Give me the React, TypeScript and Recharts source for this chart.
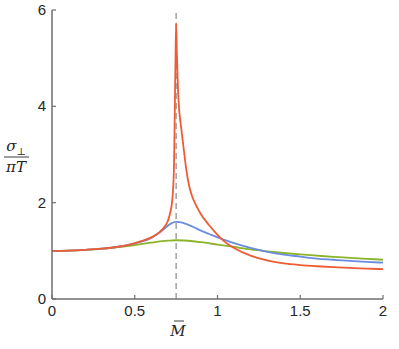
import { LineChart, Line, XAxis, YAxis, ReferenceLine } from 'recharts'

// values (x = M̄, y = σ⊥ / πT)
const orangeX = [0, 0.1, 0.2, 0.3, 0.4, 0.45, 0.5, 0.55, 0.6, 0.65, 0.68, 0.7, 0.715, 0.725, 0.732, 0.737, 0.74, 0.743, 0.746, 0.75, 0.754, 0.758, 0.762, 0.766, 0.77, 0.78, 0.79, 0.8, 0.81, 0.82, 0.83, 0.845, 0.86, 0.88, 0.9, 0.95, 1, 1.05, 1.1, 1.2, 1.3, 1.4, 1.5, 1.6, 1.7, 1.8, 1.9, 2]
const orangeY = [1.0, 1.005, 1.02, 1.045, 1.085, 1.115, 1.16, 1.21, 1.28, 1.39, 1.5, 1.62, 1.8, 2.0, 2.3, 2.75, 3.4, 4.2, 4.9, 5.72, 5.15, 4.7, 4.3, 4.05, 3.86, 3.57, 3.28, 3.0, 2.72, 2.5, 2.33, 2.15, 2.02, 1.88, 1.76, 1.53, 1.33, 1.17, 1.06, 0.9, 0.8, 0.74, 0.705, 0.68, 0.66, 0.645, 0.63, 0.62]

const blueX = [0, 0.1, 0.2, 0.3, 0.4, 0.5, 0.55, 0.6, 0.65, 0.7, 0.72, 0.75, 0.78, 0.8, 0.85, 0.9, 0.95, 1, 1.1, 1.2, 1.3, 1.4, 1.5, 1.6, 1.7, 1.8, 1.9, 2]
const blueY = [1.0, 1.005, 1.02, 1.045, 1.085, 1.155, 1.2, 1.27, 1.38, 1.52, 1.57, 1.6, 1.59, 1.57, 1.5, 1.42, 1.35, 1.28, 1.16, 1.06, 0.98, 0.92, 0.88, 0.84, 0.815, 0.79, 0.77, 0.755]

const greenX = [0, 0.1, 0.2, 0.3, 0.4, 0.5, 0.6, 0.7, 0.75, 0.8, 0.9, 1, 1.1, 1.2, 1.3, 1.4, 1.5, 1.6, 1.7, 1.8, 1.9, 2]
const greenY = [1.0, 1.005, 1.02, 1.04, 1.075, 1.12, 1.17, 1.21, 1.22, 1.215, 1.18, 1.13, 1.08, 1.03, 0.99, 0.955, 0.925, 0.9, 0.875, 0.855, 0.835, 0.815]

const xTicks = [0, 0.5, 1, 1.5, 2]
const yTicks = [0, 2, 4, 6]
const peakX = 0.75

const toPoints = (xs: number[], ys: number[]) => xs.map((x, i) => ({ x, y: ys[i] }))

const axisColor = '#6e6e6e'
const textColor = '#262626'
const font = '"Liberation Sans", Arial, sans-serif'

function XTick({ x, y, payload }: any) {
  return (
    <g>
      <line x1={x} y1={y} x2={x} y2={y - 4} stroke={axisColor} strokeWidth={1.2} />
      <text x={x} y={y + 17} textAnchor="middle" fontSize={15} fill={textColor} fontFamily={font}>
        {payload.value}
      </text>
    </g>
  )
}

function YTick({ x, y, payload }: any) {
  return (
    <g>
      <line x1={x} y1={y} x2={x + 4} y2={y} stroke={axisColor} strokeWidth={1.2} />
      <text x={x - 6} y={y + 5} textAnchor="end" fontSize={15} fill={textColor} fontFamily={font}>
        {payload.value}
      </text>
    </g>
  )
}

export default function App() {
  return (
    <div style={{ position: 'absolute', left: 0, top: 0, background: '#fff' }}>
      <LineChart width={399} height={349} margin={{ top: 10, right: 16, left: 0, bottom: 0 }}>
        <XAxis
          dataKey="x"
          type="number"
          domain={[0, 2]}
          ticks={xTicks}
          tickSize={0}
          tickMargin={0}
          tickLine={false}
          tick={<XTick />}
          height={50}
          stroke={axisColor}
          strokeWidth={1.5}
          allowDuplicatedCategory={false}
        />
        <YAxis
          type="number"
          domain={[0, 6]}
          ticks={yTicks}
          tickSize={0}
          tickMargin={0}
          tickLine={false}
          tick={<YTick />}
          width={52}
          stroke={axisColor}
          strokeWidth={1.5}
        />
        <ReferenceLine x={peakX} stroke="#8a8a8a" strokeWidth={1.2} strokeDasharray="6 4" />
        <Line data={toPoints(greenX, greenY)} dataKey="y" type="monotone" stroke="#8cb32c" strokeWidth={1.8} dot={false} isAnimationActive={false} />
        <Line data={toPoints(blueX, blueY)} dataKey="y" type="monotone" stroke="#6b8de0" strokeWidth={1.8} dot={false} isAnimationActive={false} />
        <Line data={toPoints(orangeX, orangeY)} dataKey="y" type="monotone" stroke="#ef5b34" strokeWidth={1.8} dot={false} isAnimationActive={false} />
        <g fontFamily='"DejaVu Serif", serif' fontStyle="italic" fill={textColor}>
          <text x={16} y={151} fontSize={15} textAnchor="middle">σ<tspan fontSize={10} dy={4} fontStyle="normal">⊥</tspan></text>
          <line x1={4} y1={157} x2={29} y2={157} stroke={textColor} strokeWidth={0.9} />
          <text x={16} y={172} fontSize={15} textAnchor="middle">πT</text>
          <text x={178} y={336} fontSize={15} textAnchor="middle">M</text>
          <line x1={174} y1={321} x2={184} y2={321} stroke={textColor} strokeWidth={0.9} />
        </g>
      </LineChart>
    </div>
  )
}
